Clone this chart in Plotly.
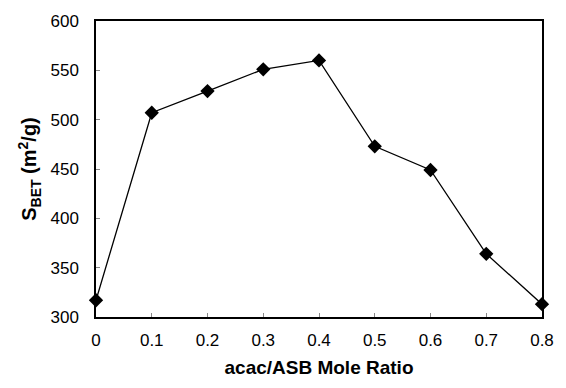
import plotly.graph_objects as go

ratio = [0, 0.1, 0.2, 0.3, 0.4, 0.5, 0.6, 0.7, 0.8]
sbet = [317, 507, 529, 551, 560, 473, 449, 364, 313]
x_ticks = [0, 0.1, 0.2, 0.3, 0.4, 0.5, 0.6, 0.7, 0.8]
x_tick_labels = ["0", "0.1", "0.2", "0.3", "0.4", "0.5", "0.6", "0.7", "0.8"]
y_ticks = [300, 350, 400, 450, 500, 550, 600]

fig = go.Figure()
fig.add_trace(go.Scatter(
    x=ratio, y=sbet, mode="lines+markers",
    line=dict(color="black", width=1.3),
    marker=dict(symbol="diamond", size=11, color="black"),
    cliponaxis=False, showlegend=False,
))

font = "Liberation Sans, Arial, sans-serif"
fig.update_layout(
    width=566, height=388,
    margin=dict(l=96, r=15, t=17, b=71),
    paper_bgcolor="white", plot_bgcolor="white",
    font=dict(family=font, color="black", size=17),
    xaxis=dict(
        range=[0, 0.8], tickvals=x_ticks, ticktext=x_tick_labels,
        ticks="inside", ticklen=4, tickcolor="#888", tickwidth=1,
        showline=True, linecolor="black", linewidth=1.5, mirror=True,
        showgrid=False, zeroline=False,
        tickfont=dict(size=17), ticklabelstandoff=7,
        title=dict(text="<b>acac/ASB Mole Ratio</b>", font=dict(size=19), standoff=12),
    ),
    yaxis=dict(
        range=[300, 600], tickvals=y_ticks,
        ticks="inside", ticklen=4, tickcolor="#888", tickwidth=1,
        showline=True, linecolor="black", linewidth=1.5, mirror=True,
        showgrid=False, zeroline=False,
        tickfont=dict(size=17), ticklabelstandoff=12,
        title=dict(text="<b>S<sub>BET</sub> (m<sup>2</sup>/g)</b>", font=dict(size=20), standoff=8),
    ),
)

fig.write_html("out.html")
